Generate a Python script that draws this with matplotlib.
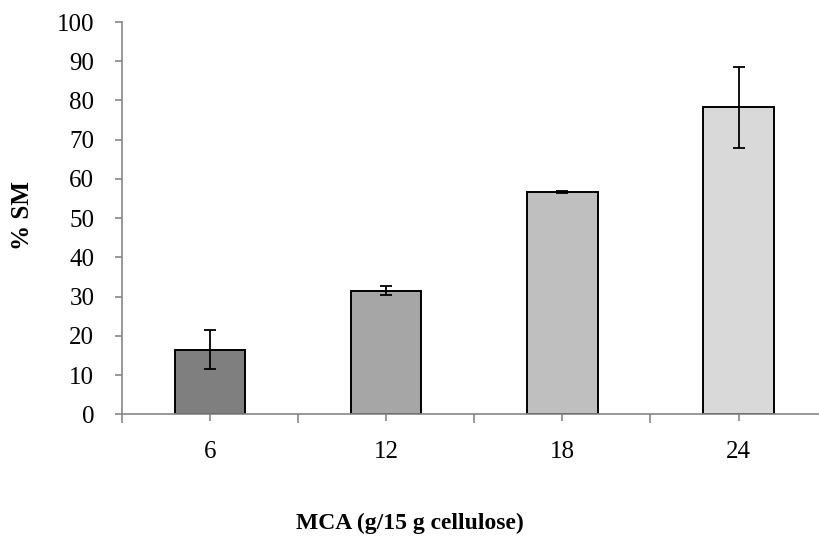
import matplotlib
matplotlib.use('Agg')
import matplotlib.pyplot as plt

# data
categories = ['6', '12', '18', '24']
values = [16.5, 31.55, 56.6, 78.3]
errors = [4.9, 1.1, 0.2, 10.35]
bar_colors = ['#7f7f7f', '#a6a6a6', '#bfbfbf', '#d9d9d9']

plt.rcParams['font.family'] = ['Liberation Serif', 'DejaVu Serif']
axis_gray = '#868686'

fig = plt.figure(figsize=(8.19, 5.42), dpi=100)
ax = fig.add_axes([0.1490, 0.2356, 0.8603, 0.7238])

x = list(range(len(categories)))
ax.bar(x, values, width=0.4, color=bar_colors, edgecolor='black', linewidth=1.4, zorder=2)
ax.errorbar(x, values, yerr=errors, fmt='none', ecolor='black', elinewidth=1.3,
            capsize=4, capthick=1.3, zorder=3)

ax.set_xlim(-0.5, 3.5)
ax.set_ylim(0, 100)
ax.set_yticks(range(0, 101, 10))
ax.set_xticks(x)
ax.set_xticklabels(categories)
ax.set_xticks([-0.5, 0.5, 1.5, 2.5], minor=True)

for side in ['top', 'right']:
    ax.spines[side].set_visible(False)
for side in ['left', 'bottom']:
    ax.spines[side].set_color(axis_gray)
    ax.spines[side].set_linewidth(1.2)

ax.tick_params(axis='y', which='major', direction='out', length=5, width=1.2,
               color=axis_gray, labelsize=18, pad=15)
ax.tick_params(axis='x', which='major', direction='out', length=5, width=1.2,
               color=axis_gray, labelsize=18, pad=14)
ax.tick_params(axis='x', which='minor', direction='out', length=6.5, width=1.2,
               color=axis_gray)

fig.text(0.027, 0.603, '% SM', rotation=90, ha='center', va='center',
         fontsize=18, fontweight='bold')
fig.text(0.50, 0.035, 'MCA (g/15 g cellulose)', ha='center', va='center',
         fontsize=17, fontweight='bold')

plt.savefig('out.png', dpi=100)
